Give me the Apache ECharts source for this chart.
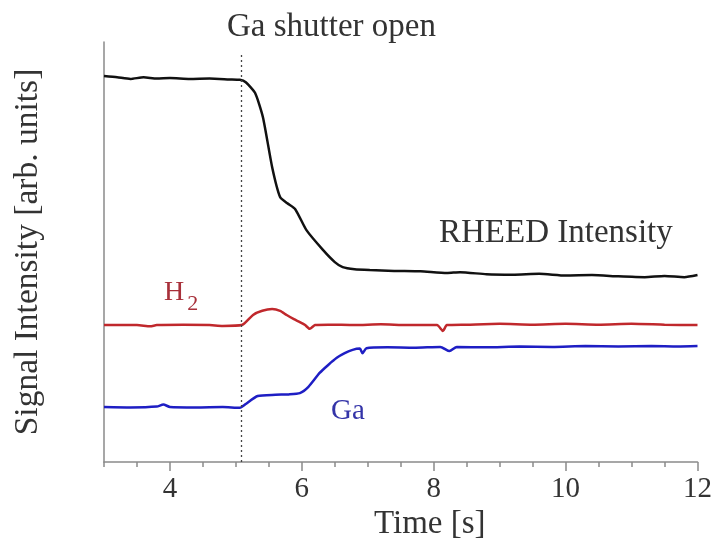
<!DOCTYPE html>
<html>
<head>
<meta charset="utf-8">
<script src="https://cdn.jsdelivr.net/npm/echarts@6/dist/echarts.min.js"></script>
<style>
  html, body { margin: 0; padding: 0; background: #fff; }
  #chart { width: 715px; height: 548px; }
</style>
</head>
<body>
<div id="chart"></div>
<script>
// time axis (s)
const xTickLabels = [4, 6, 8, 10, 12];
const shutterTime = 5.08;

// RHEED intensity trace
const rheedTime = [3.0, 3.2, 3.4, 3.6, 3.8, 4.0, 4.3, 4.6, 4.9, 5.06, 5.15, 5.29, 5.41, 5.55, 5.67, 5.78, 5.9, 6.07, 6.32, 6.5, 6.62, 6.8, 7.03, 7.4, 7.8, 8.2, 8.4, 8.8, 9.2, 9.6, 10.0, 10.4, 10.8, 11.2, 11.5, 11.8, 12.0];
const rheedSignal = [91.9, 91.6, 91.2, 91.6, 91.3, 91.4, 91.2, 91.3, 91.1, 91.0, 90.4, 87.9, 82.1, 70.2, 63.1, 61.6, 60.2, 55.2, 50.5, 47.6, 46.4, 45.9, 45.7, 45.5, 45.4, 45.0, 45.2, 44.7, 44.6, 44.8, 44.4, 44.5, 44.2, 44.0, 44.3, 44.0, 44.5];

// H2 trace
const h2Time = [3.0, 3.5, 3.7, 3.8, 4.2, 4.6, 4.8, 5.09, 5.26, 5.4, 5.55, 5.67, 5.77, 5.88, 5.97, 6.05, 6.12, 6.2, 6.4, 6.8, 7.2, 7.6, 8.05, 8.14, 8.2, 8.5, 9.0, 9.5, 10.0, 10.5, 11.0, 11.5, 12.0];
const h2Signal = [32.6, 32.6, 32.3, 32.6, 32.7, 32.6, 32.4, 32.6, 35.0, 36.0, 36.4, 36.0, 35.0, 34.0, 33.3, 32.6, 31.7, 32.6, 32.7, 32.6, 32.8, 32.6, 32.6, 31.2, 32.6, 32.7, 32.9, 32.7, 32.9, 32.7, 32.9, 32.7, 32.6];

// Ga trace
const gaTime = [3.0, 3.4, 3.8, 3.9, 4.0, 4.4, 4.8, 5.06, 5.15, 5.33, 5.6, 5.8, 5.97, 6.1, 6.27, 6.4, 6.53, 6.65, 6.77, 6.88, 6.92, 6.98, 7.3, 7.7, 8.1, 8.24, 8.35, 8.8, 9.3, 9.8, 10.3, 10.8, 11.3, 11.7, 12.0];
const gaSignal = [13.1, 13.0, 13.2, 13.7, 13.1, 13.0, 13.1, 12.9, 13.8, 15.7, 16.0, 16.1, 16.4, 17.9, 21.2, 23.1, 24.8, 25.9, 26.7, 27.0, 25.9, 27.1, 27.3, 27.2, 27.4, 26.4, 27.4, 27.3, 27.5, 27.4, 27.6, 27.5, 27.6, 27.5, 27.6];

const font = '"Liberation Serif", "DejaVu Serif", serif';
const axisGrey = '#8a8a8a';

function pairs(xs, ys) {
    return xs.map((x, i) => [x, ys[i]]);
}

var myChart = echarts.init(document.getElementById('chart'));
myChart.setOption({
    animation: false,
    backgroundColor: '#fff',
    grid: { left: 104, right: 17, top: 42, bottom: 86 },
    xAxis: [
        {
            type: 'value', min: 3, max: 12, interval: 0.5,
            axisLine: { onZero: false, lineStyle: { color: axisGrey, width: 1.5 } },
            axisTick: { length: 5, lineStyle: { color: axisGrey, width: 1.5 } },
            axisLabel: {
                customValues: xTickLabels, margin: 13,
                fontFamily: font, fontSize: 29, color: '#333'
            },
            splitLine: { show: false }
        },
        {
            type: 'value', min: 3, max: 12, interval: 1, position: 'bottom',
            axisLine: { show: false, onZero: false },
            axisTick: { customValues: xTickLabels, length: 9, lineStyle: { color: axisGrey, width: 1.5 } },
            axisLabel: { show: false },
            splitLine: { show: false }
        }
    ],
    yAxis: {
        type: 'value', min: 0, max: 100,
        axisLine: { show: true, lineStyle: { color: axisGrey, width: 1.5 } },
        axisTick: { show: false },
        axisLabel: { show: false },
        splitLine: { show: false }
    },
    series: [
        {
            name: 'RHEED Intensity', type: 'line', showSymbol: false, smooth: 0.2,
            data: pairs(rheedTime, rheedSignal),
            lineStyle: { color: '#111', width: 2.5 },
            markLine: {
                silent: true, symbol: 'none', label: { show: false },
                lineStyle: { color: '#444', type: [2, 3], width: 1.3 },
                data: [[{ coord: [shutterTime, 0] }, { coord: [shutterTime, 97] }]]
            }
        },
        {
            name: 'H2', type: 'line', showSymbol: false, smooth: 0.2,
            data: pairs(h2Time, h2Signal),
            lineStyle: { color: '#c0282c', width: 2.5 }
        },
        {
            name: 'Ga', type: 'line', showSymbol: false, smooth: 0.2,
            data: pairs(gaTime, gaSignal),
            lineStyle: { color: '#1e1ec4', width: 2.5 }
        }
    ],
    graphic: [
        {
            type: 'text', left: 227, top: 11,
            style: { text: 'Ga shutter open', font: '33px ' + font, fill: '#333' }
        },
        {
            type: 'text', left: 439, top: 217,
            style: { text: 'RHEED Intensity', font: '33px ' + font, fill: '#333' }
        },
        {
            type: 'text', left: 164, top: 279,
            style: {
                text: '{h|H}{s|2}',
                rich: {
                    h: { fontFamily: font, fontSize: 28, fill: '#a8303a' },
                    s: { fontFamily: font, fontSize: 22, fill: '#a8303a', padding: [22, 0, 0, 3] }
                }
            }
        },
        {
            type: 'text', left: 331, top: 397,
            style: { text: 'Ga', font: '29px ' + font, fill: '#3434a8' }
        },
        {
            type: 'text', left: 374, top: 508,
            style: { text: 'Time [s]', font: '33px ' + font, fill: '#333' }
        },
        {
            type: 'text', x: 28, y: 252, rotation: Math.PI / 2,
            style: {
                text: 'Signal Intensity [arb. units]', font: '33.5px ' + font, fill: '#333',
                align: 'center', verticalAlign: 'middle'
            }
        }
    ]
});
</script>
</body>
</html>
